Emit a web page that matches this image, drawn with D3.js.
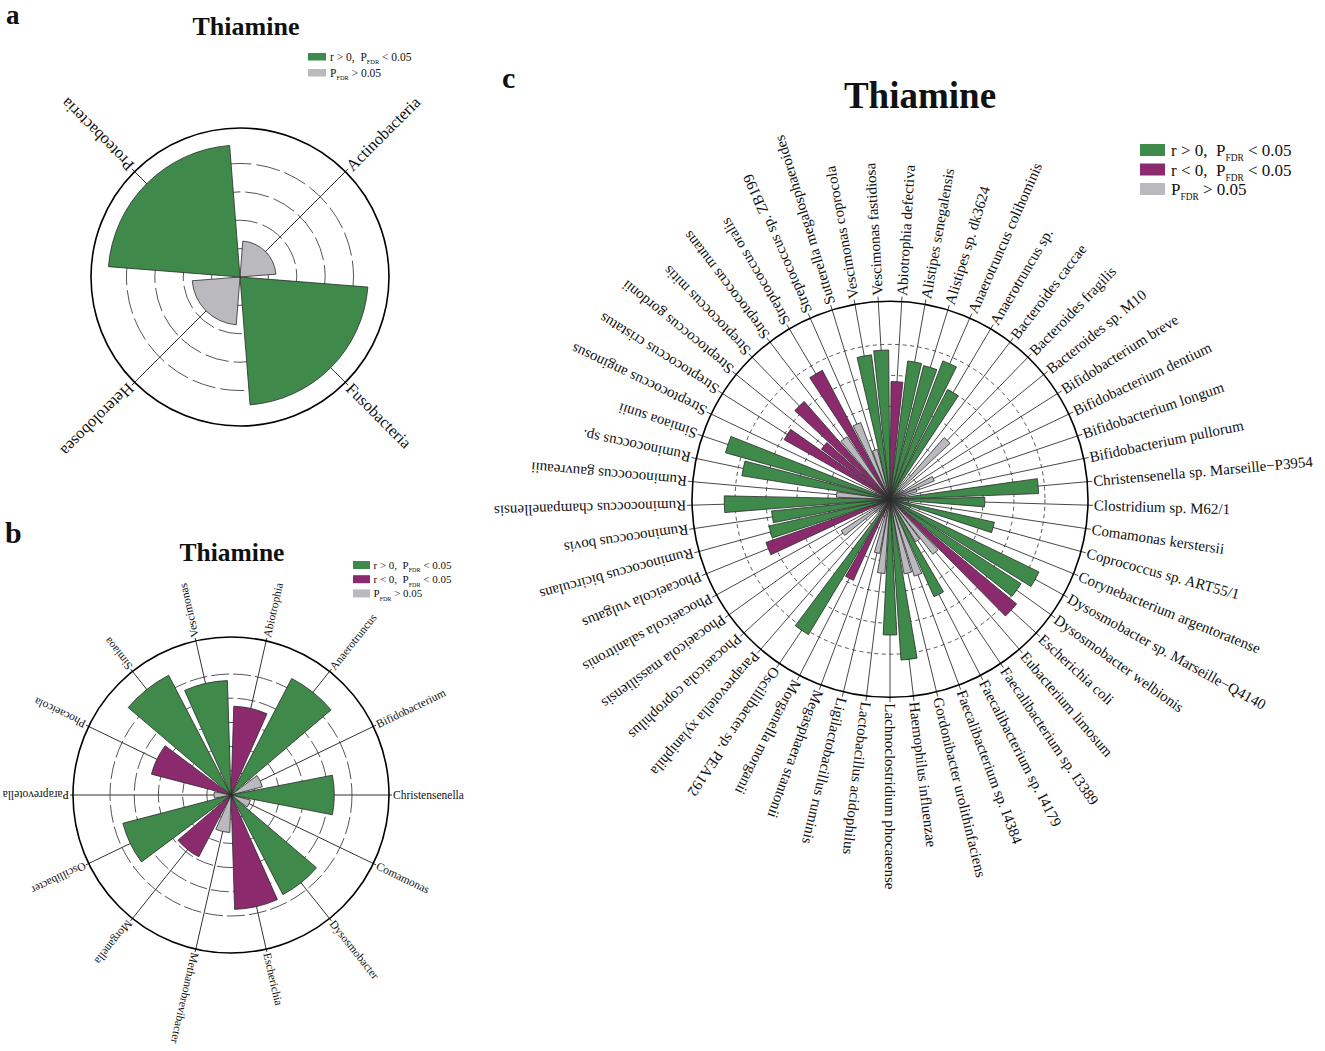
<!DOCTYPE html>
<html lang="en">
<head>
<meta charset="UTF-8">
<script src="https://d3js.org/d3.v7.min.js"></script>
<title>Thiamine</title>
<style>
  body { margin: 0; background: #fff; }
  text { font-family: "Liberation Serif", "Times New Roman", serif; fill: #111; }
</style>
</head>
<body>
<svg width="1325" height="1051"></svg>
<script>
// ---- panel a : phylum level ----
const phylaA = ["Actinobacteria", "Fusobacteria", "Heterolobosea", "Proteobacteria"];
const rA = [0.127, 0.452, 0.169, 0.465];
const sigA = ["ns", "pos", "ns", "pos"];
const ticksA = [0.1, 0.2, 0.3, 0.4];

// ---- panel b : genus level ----
const generaB = ["Abiotrophia", "Anaerotruncus", "Bifidobacterium", "Christensenella", "Comamonas",
  "Dysosmobacter", "Escherichia", "Methanobrevibacter", "Morganella", "Oscillibacter",
  "Paraprevotella", "Phocaeicola", "Simiaoa", "Vescimonas"];
const rB = [0.367, 0.543, 0.134, 0.427, 0.083, 0.464, 0.473, 0.155, 0.288, 0.462, 0.07, 0.34, 0.558, 0.473];
const sigB = ["neg", "pos", "ns", "pos", "ns", "pos", "neg", "ns", "neg", "pos", "ns", "neg", "pos", "pos"];
const ticksB = [0.1, 0.2, 0.3, 0.4, 0.5];

// ---- panel c : species level ----
const speciesC = ["Abiotrophia defectiva", "Alistipes senegalensis", "Alistipes sp. dk3624",
  "Anaerotruncus colihominis", "Anaerotruncus sp.", "Bacteroides caccae", "Bacteroides fragilis",
  "Bacteroides sp. M10", "Bifidobacterium breve", "Bifidobacterium dentium", "Bifidobacterium longum",
  "Bifidobacterium pullorum", "Christensenella sp. Marseille\u2212P3954", "Clostridium sp. M62/1",
  "Comamonas kerstersii", "Coprococcus sp. ART55/1", "Corynebacterium argentoratense",
  "Dysosmobacter sp. Marseille\u2212Q4140", "Dysosmobacter welbionis", "Escherichia coli",
  "Eubacterium limosum", "Faecalibacterium sp. I3389", "Faecalibacterium sp. I4179",
  "Faecalibacterium sp. I4384", "Gordonibacter urolithinfaciens", "Haemophilus influenzae",
  "Lachnoclostridium phocaeense", "Lactobacillus acidophilus", "Ligilactobacillus ruminis",
  "Megasphaera stantonii", "Morganella morganii", "Oscillibacter sp. PEA192",
  "Paraprevotella xylaniphila", "Phocaeicola coprophilus", "Phocaeicola massiliensis",
  "Phocaeicola salanitronis", "Phocaeicola vulgatus", "Ruminococcus bicirculans", "Ruminococcus bovis",
  "Ruminococcus champanellensis", "Ruminococcus gauvreauii", "Ruminococcus sp.", "Simiaoa sunii",
  "Streptococcus anginosus", "Streptococcus cristatus", "Streptococcus gordonii", "Streptococcus mitis",
  "Streptococcus mutans", "Streptococcus oralis", "Streptococcus sp. ZB199",
  "Sutterella megalosphaeroides", "Vescimonas coprocola", "Vescimonas fastidiosa"];
const rC = [0.38, 0.45, 0.445, 0.478, 0.40, 0.03, 0.265, 0.04, 0.05, 0.155,
  0.09, 0.05, 0.48, 0.306, 0.06, 0.345, 0.07, 0.535, 0.503, 0.53,
  0.225, 0.16, 0.345, 0.26, 0.245, 0.52, 0.438, 0.24, 0.178, 0.06,
  0.287, 0.51, 0.05, 0.06, 0.187, 0.06, 0.424, 0.40, 0.384, 0.535,
  0.173, 0.484, 0.552, 0.05, 0.392, 0.274, 0.42, 0.245, 0.47, 0.265,
  0.166, 0.47, 0.482];
const sigC = ["neg", "pos", "pos", "pos", "pos", "ns", "ns", "ns", "ns", "ns",
  "ns", "ns", "pos", "pos", "ns", "pos", "ns", "pos", "pos", "neg",
  "ns", "ns", "pos", "ns", "ns", "pos", "pos", "ns", "ns", "ns",
  "neg", "pos", "ns", "ns", "ns", "ns", "neg", "pos", "pos", "pos",
  "ns", "pos", "pos", "ns", "neg", "neg", "neg", "ns", "neg", "ns",
  "ns", "pos", "pos"];
const ticksC = [0.1, 0.2, 0.3, 0.4, 0.5];

const colors = { pos: "#3f8a4a", neg: "#8b2b6e", ns: "#b9b9be" };
const legendFull = [
  { key: "pos", text: ["r > 0,\u2002P", "FDR", " < 0.05"] },
  { key: "neg", text: ["r < 0,\u2002P", "FDR", " < 0.05"] },
  { key: "ns", text: ["P", "FDR", " > 0.05"] }
];

const svg = d3.select("svg");

function drawRose(o) {
  const g = svg.append("g").attr("transform", `translate(${o.cx},${o.cy})`);
  const x = d3.scaleBand().domain(o.cats).range([0, 2 * Math.PI]);
  const y = d3.scaleLinear().domain([0, o.rMax]).range([0, o.radius]);
  const bw = x.bandwidth();
  const pad = bw * o.pad / 2;
  const mid = d => x(d) + bw / 2;
  const rows = o.cats.map((c, i) => ({ c: c, v: o.vals[i], s: o.sig[i] }));

  // dashed rings
  g.selectAll(".ring").data(o.ticks).join("circle")
    .attr("class", "ring")
    .attr("r", d => y(d))
    .attr("fill", "none")
    .attr("stroke", "#555")
    .attr("stroke-width", 1)
    .attr("stroke-dasharray", o.dash);

  // spokes
  g.selectAll(".spoke").data(o.cats).join("line")
    .attr("class", "spoke")
    .attr("x1", 0).attr("y1", 0)
    .attr("x2", d => (o.radius + o.gap) * Math.sin(mid(d)))
    .attr("y2", d => -(o.radius + o.gap) * Math.cos(mid(d)))
    .attr("stroke", "#333")
    .attr("stroke-width", o.spokeW);

  // bars
  const arc = d3.arc()
    .innerRadius(0)
    .outerRadius(d => y(d.v))
    .startAngle(d => x(d.c) + pad)
    .endAngle(d => x(d.c) + bw - pad);

  g.selectAll(".bar").data(rows).join("path")
    .attr("class", "bar")
    .attr("d", arc)
    .attr("fill", d => colors[d.s])
    .attr("stroke", "#2b2b2b")
    .attr("stroke-width", o.barStroke);

  // outer ring
  g.append("circle")
    .attr("r", o.radius)
    .attr("fill", "none")
    .attr("stroke", "#000")
    .attr("stroke-width", 1.6);

  // labels, turned along each spoke
  g.selectAll(".lab").data(o.cats).join("text")
    .attr("class", "lab")
    .attr("transform", d => `rotate(${mid(d) * 180 / Math.PI - 90}) translate(${o.radius + o.gap + 1},0)`)
    .attr("dy", "0.33em")
    .attr("text-anchor", "start")
    .style("font-size", o.labelSize + "px")
    .text(d => d);
}

function drawLegend(x0, y0, items, o) {
  const g = svg.append("g").attr("transform", `translate(${x0},${y0})`);
  items.forEach((it, i) => {
    const yy = i * o.row;
    g.append("rect")
      .attr("x", 0).attr("y", yy)
      .attr("width", o.w).attr("height", o.h)
      .attr("fill", colors[it.key]);
    const t = g.append("text")
      .attr("x", o.w + o.tgap).attr("y", yy + o.h)
      .style("font-size", o.size + "px");
    t.append("tspan").text(it.text[0]);
    t.append("tspan").attr("dy", o.size * 0.3).style("font-size", (o.size * 0.55) + "px").text(it.text[1]);
    t.append("tspan").attr("dy", -o.size * 0.3).text(it.text[2]);
  });
}

function title(x, y, size, txt) {
  svg.append("text").attr("x", x).attr("y", y)
    .attr("text-anchor", "middle")
    .style("font-size", size + "px").style("font-weight", "bold")
    .text(txt);
}

function tag(x, y, size, txt) {
  svg.append("text").attr("x", x).attr("y", y)
    .style("font-size", size + "px").style("font-weight", "bold")
    .text(txt);
}

// panel a
tag(6, 24, 27, "a");
title(246, 35, 26, "Thiamine");
drawRose({ cx: 240, cy: 277, radius: 149, rMax: 0.525, ticks: ticksA, cats: phylaA, vals: rA, sig: sigA,
  pad: 0.1, dash: "24,5", gap: 4, spokeW: 1, barStroke: 0.8, labelSize: 16.5 });
drawLegend(308, 53, [legendFull[0], legendFull[2]], { w: 18, h: 7.5, row: 16, tgap: 4, size: 11.5 });

// panel b
tag(5, 543, 30, "b");
title(232, 561, 25.5, "Thiamine");
drawRose({ cx: 231, cy: 795, radius: 158, rMax: 0.653, ticks: ticksB, cats: generaB, vals: rB, sig: sigB,
  pad: 0.14, dash: "18,4", gap: 3, spokeW: 1, barStroke: 0.8, labelSize: 11.5 });
drawLegend(353, 561, legendFull, { w: 17, h: 8, row: 14.2, tgap: 3.5, size: 11 });

// panel c
tag(502, 88, 30, "c");
title(920, 108, 37, "Thiamine");
drawRose({ cx: 890, cy: 499.3, radius: 198, rMax: 0.639, ticks: ticksC, cats: speciesC, vals: rC, sig: sigC,
  pad: 0.15, dash: "4,3.5", gap: 5, spokeW: 0.9, barStroke: 0.8, labelSize: 15 });
drawLegend(1140, 144, legendFull, { w: 25, h: 12, row: 19.5, tgap: 6, size: 17 });
</script>
</body>
</html>
